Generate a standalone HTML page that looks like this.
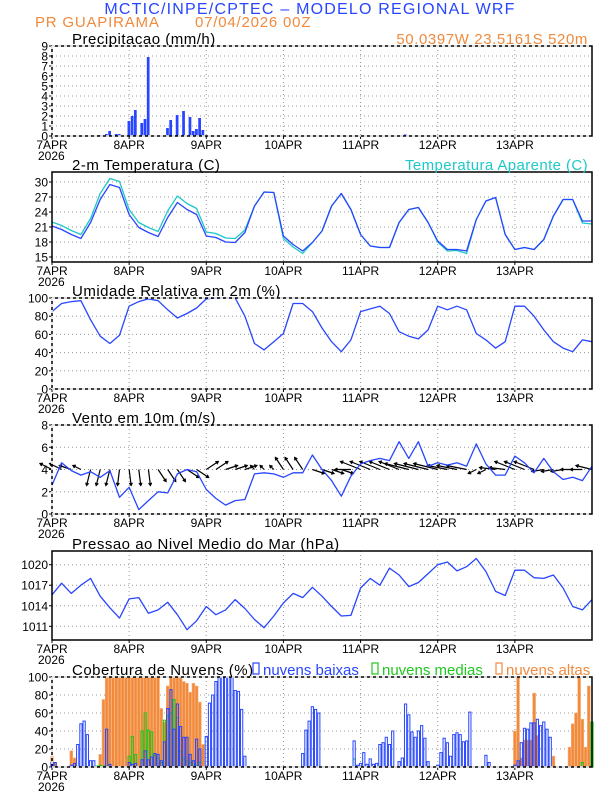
<!DOCTYPE html>
<html><head><meta charset="utf-8"><style>
body{margin:0;background:#fff;width:612px;height:792px;overflow:hidden}
svg{display:block;font-family:"Liberation Sans",sans-serif}
</style></head><body>
<svg id="c" width="612" height="792" viewBox="0 0 612 792">
<text x="310" y="14" text-anchor="middle" font-size="16" letter-spacing="1.2" fill="#2846ff">MCTIC/INPE/CPTEC – MODELO REGIONAL WRF</text>
<text x="35" y="27" font-size="15" letter-spacing="0.8" fill="#f08a3c">PR GUAPIRAMA</text>
<text x="195" y="27" font-size="15" letter-spacing="0.8" fill="#f08a3c">07/04/2026 00Z</text>
<text x="588" y="44" text-anchor="end" font-size="15" letter-spacing="0.6" fill="#f08a3c">50.0397W 23.5161S 520m</text>
</svg>
<script>
const days=['7APR','8APR','9APR','10APR','11APR','12APR','13APR'];
const precipHours=[15,17,18,20,21,24,25,26,28,29,30,36,37,39,41,43,44,45,46,47,52,54,56,58,110];
const precipVals=[0.1,0.2,0.5,0.2,0.2,1.5,2.0,2.6,1.3,1.7,7.9,0.8,1.6,2.1,2.5,1.9,0.5,0.7,1.8,0.6,0.05,0.05,0.05,0.05,0.15];
const tempVals=[21.2,20.5,19.5,18.7,21.9,26.5,29.5,28.9,23.5,20.9,19.9,19.1,22.9,25.9,24.5,23.5,19.2,18.9,18.0,17.9,19.9,25.2,28.0,27.9,19.2,17.5,16.2,17.9,20.2,25.2,27.7,24.5,19.5,17.2,16.9,16.9,21.9,24.5,24.9,21.9,18.2,16.5,16.5,16.2,22.5,26.2,26.9,19.5,16.5,16.9,16.5,18.5,23.2,26.5,26.5,22.2,22.2];
const apparentVals=[22.0,21.3,20.3,19.5,22.7,27.7,30.7,30.1,24.5,21.9,20.9,20.1,24.2,27.2,25.7,24.7,20.0,19.7,18.8,18.7,20.4,25.2,28.0,27.9,18.7,17.0,15.7,17.9,20.2,25.2,27.7,24.5,19.5,17.2,16.9,16.9,21.9,24.5,24.9,21.9,18.0,16.2,16.3,15.7,22.5,26.2,26.9,19.5,16.5,16.9,16.5,18.5,23.2,26.5,26.5,21.8,21.6];
const rhVals=[85,94,96,97,76,58,50,59,91,96,99,97,87,78,83,89,99,100,100,100,80,50,43,52,61,94,94,85,67,52,41,54,85,88,91,83,63,58,55,65,91,87,91,87,61,54,45,52,91,91,80,65,52,45,41,54,52];
const windVals=[2.6,4.6,3.9,3.5,3.8,3.3,3.9,1.5,2.4,0.4,1.2,2.0,1.9,3.6,4.0,3.8,2.2,1.4,0.8,1.2,1.3,3.6,3.7,3.6,3.3,3.7,3.7,5.3,4.0,3.0,1.6,3.4,4.5,4.8,5.0,4.8,6.5,5.0,6.5,4.3,4.6,4.4,4.6,4.3,6.3,4.5,3.5,3.5,5.2,4.6,3.7,5.0,3.8,3.1,3.3,3.0,4.3];
const windU=[-3,-3,-3,-2,-1,-1,-1,-0.5,0.5,0.5,0.5,2,2,2,3,3,3,3,3,3,3,-1,-1,-1,-2,-2,-2,3,3,3,3,-4,-5,-5,-5,-5,-5,-6,-6,-6,-6,-5,-5,-5,-2,-2,-4,-4,-5,-5,-5,-3,-3,-3,-3,-3,-4];
const windV=[1.5,1.5,1,1,-4,-4,-4,-4,-4,-4,-4,-3,-3,-3,-2,-2,2,2,1,1,1,1,1,1,3,3,3,-1,-1,-1,-1,0,2,2,2,2,2,1.5,1.5,1.5,1.5,1,1,1,-1,-1,0.5,0.5,2,2,2,-0.5,-0.5,-0.5,0,0,1];
const presVals=[1015.6,1017.3,1015.8,1017.0,1018.0,1015.4,1013.7,1012.2,1015.0,1015.2,1012.9,1013.4,1014.5,1012.7,1010.5,1011.8,1013.9,1012.7,1013.4,1014.9,1013.6,1012.0,1010.8,1012.5,1014.4,1015.8,1015.2,1016.7,1015.4,1013.9,1012.5,1012.6,1016.6,1018.0,1017.0,1019.5,1018.5,1016.8,1017.4,1018.7,1020.0,1020.4,1019.1,1019.7,1020.9,1019.0,1016.1,1015.5,1019.2,1019.2,1018.1,1018.0,1018.5,1016.6,1013.9,1013.4,1014.9];
const highHours=[0,1,6,7,15,16,17,18,19,20,21,22,23,24,25,26,27,28,29,30,31,32,33,34,35,36,37,38,39,40,41,42,43,44,45,46,47,144,145,146,147,148,149,150,151,156,161,162,163,164,165,166,167];
const highVals=[12,5,18,10,14,75,100,100,100,100,100,100,100,100,100,100,100,100,100,100,100,100,100,65,50,90,100,100,100,100,95,93,83,93,90,72,25,40,100,10,30,30,30,82,35,12,22,48,60,100,53,22,90];
const lowHours=[0,1,6,7,8,9,10,11,12,13,17,18,24,25,26,28,29,30,31,32,33,34,35,36,37,38,39,40,41,42,43,44,45,46,48,49,50,51,52,53,54,55,56,57,58,59,60,78,79,80,81,82,83,94,95,96,97,98,99,100,101,102,103,104,105,106,108,109,110,111,112,113,114,115,116,117,120,121,122,123,124,125,126,127,128,129,130,135,136,144,145,146,147,148,149,150,151,152,153,154,155];
const lowVals=[5,5,2,4,25,48,51,36,7,7,42,3,5,3,4,8,18,8,11,15,14,7,28,65,86,42,70,45,33,33,14,7,31,20,34,71,80,95,100,100,100,100,100,85,84,64,12,15,41,51,67,64,60,29,2,4,16,3,9,3,4,25,27,33,25,40,6,10,70,58,39,33,40,46,32,6,2,16,32,27,12,36,38,36,28,29,61,13,5,2,7,27,43,42,49,49,53,46,50,42,33];
const midHours=[14,15,16,17,24,25,26,28,29,30,31,32,33,34,35,36,37,38,39,40,41,42,43,44,45,46,94,165,168];
const midVals=[1,2,1,1,12,34,14,40,60,41,39,13,10,5,52,57,60,75,55,17,10,7,5,3,2,5,9,5,50];

const NS='http://www.w3.org/2000/svg';
const svg=document.getElementById('c');
const X0=52,X1=592,HOURS=168;
function xh(h){return X0+h*(X1-X0)/HOURS;}
function mk(tag,attrs,parent){const e=document.createElementNS(NS,tag);for(const k in attrs)e.setAttribute(k,attrs[k]);(parent||svg).appendChild(e);return e;}
const BLUE='#2846ff',CYAN='#1ec8c8',ORANGE='#f28a3c',GREEN='#1ec81e';

function panel(name,title,top,bot,ymin,ymax,ticks,dashed){
  const g=mk('g',{});
  
  
  const ys=v=>bot-(v-ymin)*(bot-top)/(ymax-ymin);
  for(let d=1;d<7;d++){const gl=mk('line',{x1:xh(d*24),x2:xh(d*24),y1:top,y2:bot,stroke:'#999','stroke-dasharray':'1,3','stroke-width':1},g);
    }
  ticks.forEach(t=>{
    if(t!==ymin&&t!==ymax){const gl=mk('line',{x1:X0,x2:X1,y1:ys(t),y2:ys(t),stroke:'#999','stroke-dasharray':'1,3','stroke-width':1},g);
      }
    const tl=mk('text',{x:X0-4,y:ys(t)+4.5,'text-anchor':'end','font-size':12,fill:'#000'},g);tl.textContent=t;
    
    mk('line',{x1:X0-3,x2:X0,y1:ys(t),y2:ys(t),stroke:'#000'},g);
  });
  days.forEach((d,i)=>{
    const tl=mk('text',{x:xh(i*24),y:bot+13,'text-anchor':'middle','font-size':12,fill:'#000'},g);tl.textContent=d;
    
    mk('line',{x1:xh(i*24),x2:xh(i*24),y1:bot,y2:bot+3,stroke:'#000'},g);
  });
  const yr=mk('text',{x:38,y:bot+24,'font-size':12,fill:'#000'},g);yr.textContent='2026';
  
  const tt=mk('text',{x:72,y:top-2,'font-size':15,'letter-spacing':0.5,fill:'#000'},g);tt.textContent=title;
  
  return {g,ys,top,bot,
    frame(){const f=mk('rect',{x:X0,y:top,width:X1-X0,height:bot-top,fill:'none',stroke:'#000','stroke-width':1.5},g);
      if(dashed){mk('line',{x1:X0,x2:X1,y1:top,y2:top,stroke:'#fff','stroke-width':1.6,'stroke-dasharray':'3,3'},g);
        mk('line',{x1:X0,x2:X1,y1:bot,y2:bot,stroke:'#fff','stroke-width':1.6,'stroke-dasharray':'3,3'},g);
        mk('line',{x1:X0,x2:X0,y1:top,y2:bot,stroke:'#fff','stroke-width':1.6,'stroke-dasharray':'3,3'},g);}
      }};
}
function line(p,vals,color,name,w){
  const pts=vals.map((v,i)=>xh(i*3).toFixed(1)+','+p.ys(v).toFixed(1)).join(' ');
  const l=mk('polyline',{points:pts,fill:'none',stroke:color,'stroke-width':w||1.3,'stroke-linejoin':'round'},p.g);
  
  
}
const hw=(X1-X0)/HOURS;
const p1=panel('precip','Precipitacao (mm/h)',46,136,0,9,[0,1,2,3,4,5,6,7,8,9],true);
precipHours.forEach((h,i)=>{const y=p1.ys(precipVals[i]);const b=mk('rect',{x:xh(h)-hw/2,y:y,width:hw*0.85,height:Math.max(136-y,0.8),fill:BLUE},p1.g);
  });
p1.frame();
const p2=panel('temperature','2-m Temperatura (C)',172,262,14,32,[15,18,21,24,27,30],false);
line(p2,apparentVals,CYAN,'apparent-temperature-line');
line(p2,tempVals,BLUE,'temperature-line');
p2.frame();
const at=mk('text',{x:588,y:170,'text-anchor':'end','font-size':15,'letter-spacing':0.4,fill:CYAN});at.textContent='Temperatura Aparente (C)';

const p3=panel('humidity','Umidade Relativa em 2m (%)',298,389,0,100,[0,20,40,60,80,100],true);
line(p3,rhVals,BLUE,'humidity-line');p3.frame();
const p4=panel('wind','Vento em 10m (m/s)',425,514,0,8,[0,2,4,6,8],true);
windU.forEach((u,i)=>{const x=xh(i*3),y=p4.ys(4);const dx=u*4,dy=-windV[i]*4;const x2=x+dx,y2=y+dy;
  const ang=Math.atan2(dy,dx);const a1=ang+2.6,a2=ang-2.6;
  const ar=mk('path',{d:`M${x},${y}L${x2},${y2}M${x2+3*Math.cos(a1)},${y2+3*Math.sin(a1)}L${x2},${y2}L${x2+3*Math.cos(a2)},${y2+3*Math.sin(a2)}`,stroke:'#000','stroke-width':1.2,fill:'none'},p4.g);
  });
line(p4,windVals,BLUE,'wind-speed-line');p4.frame();
const p5=panel('pressure','Pressao ao Nivel Medio do Mar (hPa)',551,640,1009,1022,[1011,1014,1017,1020],false);
line(p5,presVals,BLUE,'pressure-line');p5.frame();
const p6=panel('clouds','Cobertura de Nuvens (%)',677,767,0,100,[0,20,40,60,80,100],true);
highHours.forEach((h,i)=>{const y=p6.ys(highVals[i]);const b=mk('rect',{x:xh(h)-hw/2+0.2,y:y,width:hw-0.4,height:767-y,fill:ORANGE,stroke:'#f7b07a','stroke-width':0.6},p6.g);
  });
midHours.forEach((h,i)=>{const y=p6.ys(midVals[i]);const b=mk('rect',{x:xh(h)-hw/2+0.5,y:y,width:hw-1,height:767-y,fill:'none',stroke:GREEN,'stroke-width':1},p6.g);
  });
lowHours.forEach((h,i)=>{const y=p6.ys(lowVals[i]);const b=mk('rect',{x:xh(h)-hw/2+0.5,y:y,width:hw-1,height:767-y,fill:'none',stroke:BLUE,'stroke-width':1},p6.g);
  });
p6.frame();
[['nuvens baixas',BLUE,253,'legend-low'],['nuvens medias',GREEN,372,'legend-mid'],['nuvens altas',ORANGE,496,'legend-high']].forEach(l=>{
  const r=mk('rect',{x:l[2],y:663,width:6,height:11,fill:'none',stroke:l[1],'stroke-width':1.2});
  
  const t=mk('text',{x:l[2]+10,y:675,'font-size':15,fill:l[1]});t.textContent=l[0];
  
});
</script>
</body></html>
